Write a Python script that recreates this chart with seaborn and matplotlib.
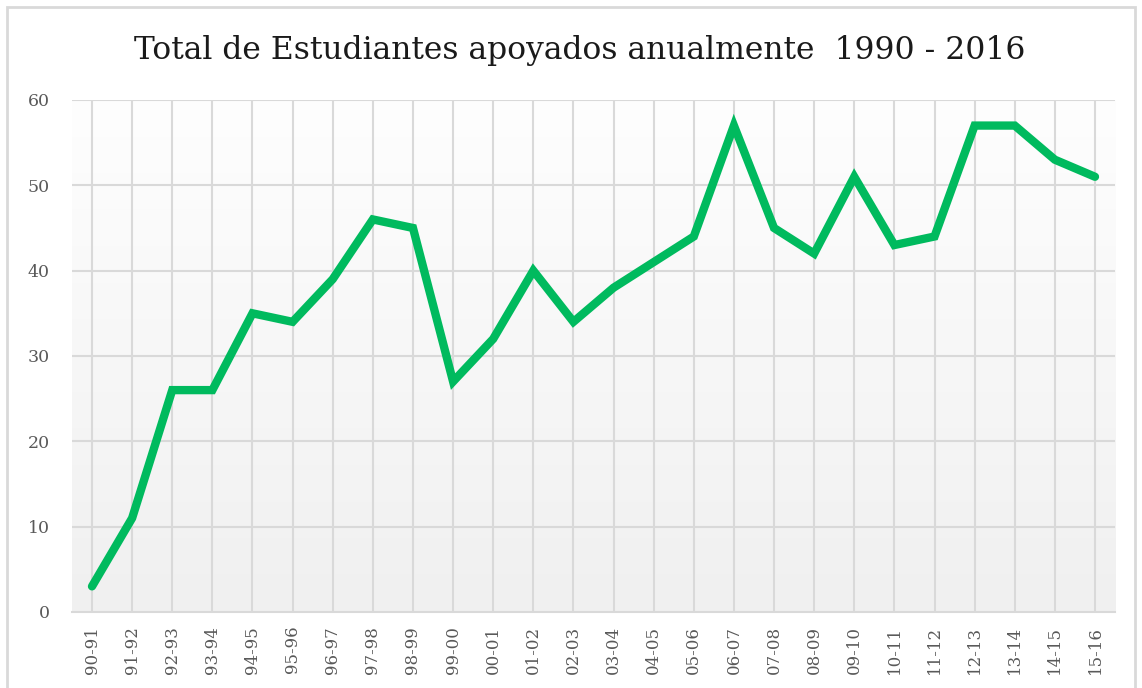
import numpy as np
import pandas as pd
import seaborn as sns
import matplotlib.pyplot as plt
from matplotlib.colors import LinearSegmentedColormap
from matplotlib.patches import Rectangle

PERIODS = [
    "90-91", "91-92", "92-93", "93-94", "94-95", "95-96", "96-97", "97-98",
    "98-99", "99-00", "00-01", "01-02", "02-03", "03-04", "04-05", "05-06",
    "06-07", "07-08", "08-09", "09-10", "10-11", "11-12", "12-13", "13-14",
    "14-15", "15-16",
]
STUDENTS = [
    3, 11, 26, 26, 35, 34, 39, 46, 45, 27, 32, 40, 34, 38, 41, 44,
    57, 45, 42, 51, 43, 44, 57, 57, 53, 51,
]
Y_TICKS = [0, 10, 20, 30, 40, 50, 60]
TITLE = "Total de Estudiantes apoyados anualmente  1990 - 2016"

LINE_COLOR = "#00BA5E"
GRID_COLOR = "#d9d9d9"
TEXT_COLOR = "#595959"


def main():
    sns.set_theme(style="white")
    plt.rcParams["font.family"] = ["DejaVu Serif"]

    df = pd.DataFrame({"periodo": PERIODS, "estudiantes": STUDENTS})
    df["pos"] = range(len(df))

    fig = plt.figure(figsize=(11.42, 6.88), dpi=100)
    ax = fig.add_axes([0.063, 0.1105, 0.9134, 0.7442])

    # fondo con degradado suave (blanco arriba, gris claro abajo)
    gradient = np.linspace(0, 1, 256).reshape(-1, 1)
    cmap = LinearSegmentedColormap.from_list("bg", ["#fefefe", "#f0f0f0"])
    ax.imshow(gradient, cmap=cmap, aspect="auto", extent=[0, 1, 0, 1],
              transform=ax.transAxes, zorder=0, origin="upper")

    sns.lineplot(data=df, x="pos", y="estudiantes", ax=ax, color=LINE_COLOR,
                 linewidth=6, solid_capstyle="round", solid_joinstyle="miter", zorder=3)

    ax.set_xlim(-0.5, len(PERIODS) - 0.5)
    ax.set_ylim(0, 60)
    ax.set_xticks(df["pos"])
    ax.set_xticklabels(PERIODS, rotation=90, fontsize=12, color=TEXT_COLOR)
    ax.set_yticks(Y_TICKS)
    ax.set_yticklabels([str(v) for v in Y_TICKS], fontsize=12.5, color=TEXT_COLOR)
    ax.tick_params(axis="x", length=0, pad=10)
    ax.tick_params(axis="y", length=0, pad=16)

    ax.grid(True, color=GRID_COLOR, linewidth=1.5, zorder=1)
    ax.set_axisbelow(True)
    for side in ["top", "right", "left"]:
        ax.spines[side].set_visible(False)
    ax.spines["bottom"].set_color(GRID_COLOR)
    ax.spines["bottom"].set_linewidth(1.5)
    ax.set_xlabel("")
    ax.set_ylabel("")

    fig.text(0.508, 0.926, TITLE, ha="center", va="center", fontsize=22.6, color="#1a1a1a")

    fig.patches.append(Rectangle((0.006, -0.01), 0.988, 1.0, transform=fig.transFigure,
                                 fill=False, edgecolor=GRID_COLOR, linewidth=2))

    fig.savefig("out.png", dpi=100)
    plt.close(fig)


if __name__ == "__main__":
    main()
